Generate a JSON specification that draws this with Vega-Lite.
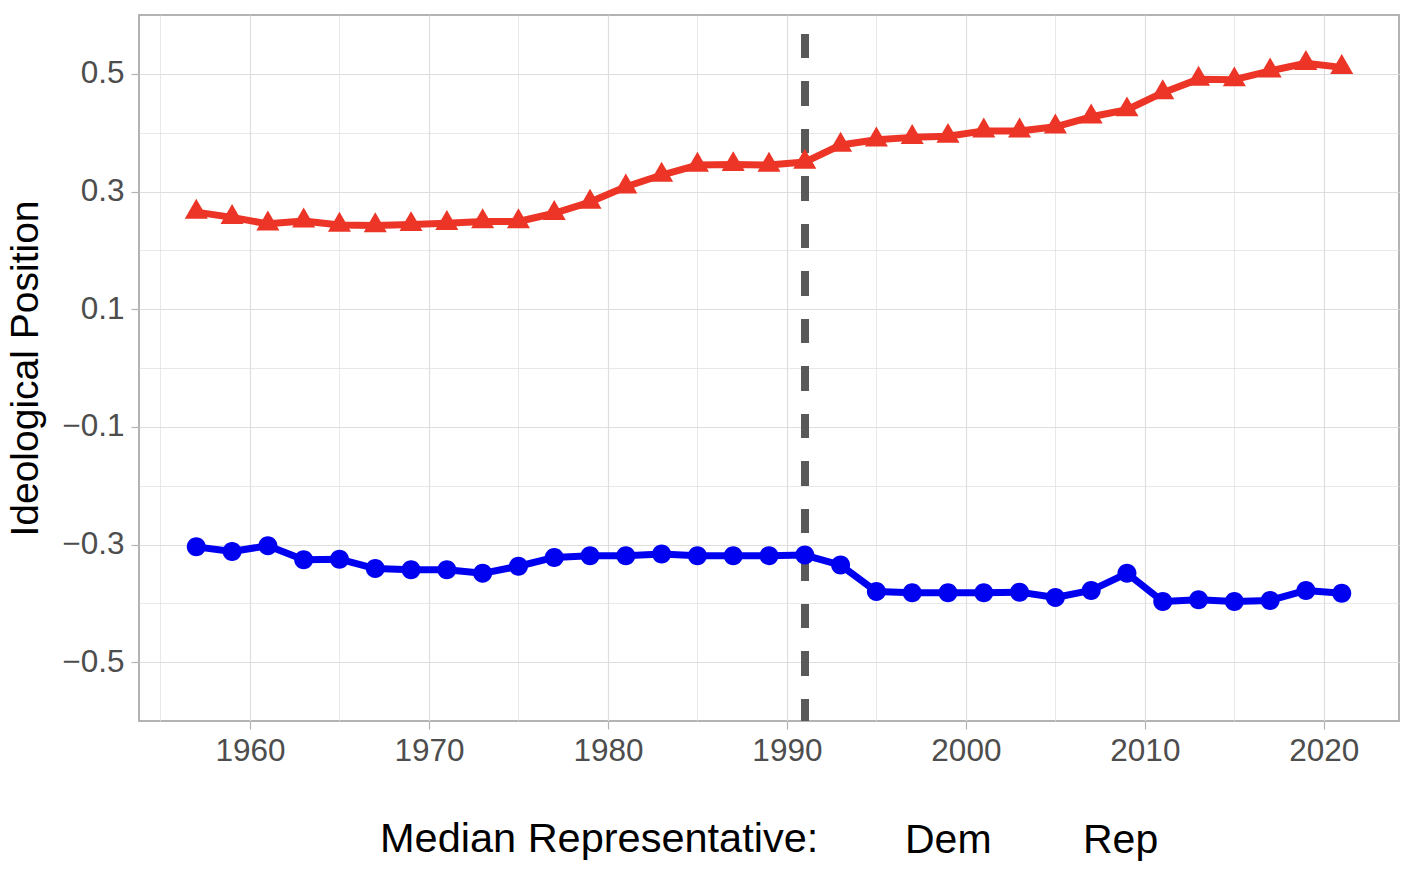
{
  "$schema": "https://vega.github.io/schema/vega-lite/v6.json",
  "autosize": {"type": "none"},
  "width": 1260,
  "height": 706,
  "padding": {"left": 139, "top": 15, "right": 15, "bottom": 171},
  "background": "white",
  "config": {
    "font": "Liberation Sans",
    "view": {"stroke": "#b3b3b3", "strokeWidth": 2}
  },
  "data": {
    "values": [
      {"year": 1957, "party": "Dem", "value": -0.304}, {"year": 1959, "party": "Dem", "value": -0.312},
      {"year": 1961, "party": "Dem", "value": -0.302}, {"year": 1963, "party": "Dem", "value": -0.326},
      {"year": 1965, "party": "Dem", "value": -0.325}, {"year": 1967, "party": "Dem", "value": -0.341},
      {"year": 1969, "party": "Dem", "value": -0.343}, {"year": 1971, "party": "Dem", "value": -0.343},
      {"year": 1973, "party": "Dem", "value": -0.349}, {"year": 1975, "party": "Dem", "value": -0.337},
      {"year": 1977, "party": "Dem", "value": -0.322}, {"year": 1979, "party": "Dem", "value": -0.319},
      {"year": 1981, "party": "Dem", "value": -0.319}, {"year": 1983, "party": "Dem", "value": -0.316},
      {"year": 1985, "party": "Dem", "value": -0.319}, {"year": 1987, "party": "Dem", "value": -0.319},
      {"year": 1989, "party": "Dem", "value": -0.319}, {"year": 1991, "party": "Dem", "value": -0.318},
      {"year": 1993, "party": "Dem", "value": -0.335}, {"year": 1995, "party": "Dem", "value": -0.380},
      {"year": 1997, "party": "Dem", "value": -0.382}, {"year": 1999, "party": "Dem", "value": -0.382},
      {"year": 2001, "party": "Dem", "value": -0.382}, {"year": 2003, "party": "Dem", "value": -0.381},
      {"year": 2005, "party": "Dem", "value": -0.390}, {"year": 2007, "party": "Dem", "value": -0.378},
      {"year": 2009, "party": "Dem", "value": -0.349}, {"year": 2011, "party": "Dem", "value": -0.397},
      {"year": 2013, "party": "Dem", "value": -0.394}, {"year": 2015, "party": "Dem", "value": -0.397},
      {"year": 2017, "party": "Dem", "value": -0.395}, {"year": 2019, "party": "Dem", "value": -0.378},
      {"year": 2021, "party": "Dem", "value": -0.383},
      {"year": 1957, "party": "Rep", "value": 0.265}, {"year": 1959, "party": "Rep", "value": 0.256},
      {"year": 1961, "party": "Rep", "value": 0.245}, {"year": 1963, "party": "Rep", "value": 0.250},
      {"year": 1965, "party": "Rep", "value": 0.243}, {"year": 1967, "party": "Rep", "value": 0.242},
      {"year": 1969, "party": "Rep", "value": 0.244}, {"year": 1971, "party": "Rep", "value": 0.246},
      {"year": 1973, "party": "Rep", "value": 0.249}, {"year": 1975, "party": "Rep", "value": 0.249},
      {"year": 1977, "party": "Rep", "value": 0.263}, {"year": 1979, "party": "Rep", "value": 0.282},
      {"year": 1981, "party": "Rep", "value": 0.308}, {"year": 1983, "party": "Rep", "value": 0.328},
      {"year": 1985, "party": "Rep", "value": 0.345}, {"year": 1987, "party": "Rep", "value": 0.346},
      {"year": 1989, "party": "Rep", "value": 0.345}, {"year": 1991, "party": "Rep", "value": 0.350},
      {"year": 1993, "party": "Rep", "value": 0.379}, {"year": 1995, "party": "Rep", "value": 0.388},
      {"year": 1997, "party": "Rep", "value": 0.392}, {"year": 1999, "party": "Rep", "value": 0.394},
      {"year": 2001, "party": "Rep", "value": 0.403}, {"year": 2003, "party": "Rep", "value": 0.403},
      {"year": 2005, "party": "Rep", "value": 0.410}, {"year": 2007, "party": "Rep", "value": 0.427},
      {"year": 2009, "party": "Rep", "value": 0.439}, {"year": 2011, "party": "Rep", "value": 0.468},
      {"year": 2013, "party": "Rep", "value": 0.491}, {"year": 2015, "party": "Rep", "value": 0.490},
      {"year": 2017, "party": "Rep", "value": 0.505}, {"year": 2019, "party": "Rep", "value": 0.518},
      {"year": 2021, "party": "Rep", "value": 0.511}
    ]
  },
  "encoding": {
    "x": {
      "field": "year", "type": "quantitative",
      "scale": {"domain": [1953.8, 2024.2], "nice": false, "zero": false},
      "axis": {
        "title": null,
        "format": "d",
        "values": [1955, 1960, 1965, 1970, 1975, 1980, 1985, 1990, 1995, 2000, 2005, 2010, 2015, 2020],
        "domain": false,
        "grid": true,
        "gridColor": "#dedede",
        "gridWidth": {"condition": {"test": "datum.value % 10 === 0", "value": 1.2}, "value": 0.7},
        "ticks": true,
        "tickColor": "#b3b3b3",
        "tickSize": 8,
        "tickWidth": 1.2,
        "tickOpacity": {"condition": {"test": "datum.value % 10 === 0", "value": 1}, "value": 0},
        "labelExpr": "datum.value % 10 === 0 ? datum.label : ''",
        "labelFontSize": 31.5,
        "labelColor": "#4d4d4d",
        "labelPadding": 6,
        "labelFlush": false,
        "labelOverlap": false
      }
    },
    "y": {
      "field": "value", "type": "quantitative",
      "scale": {"domain": [-0.6, 0.6], "nice": false, "zero": false},
      "axis": {
        "title": "Ideological Position",
        "titleFontSize": 39,
        "titleFontWeight": "normal",
        "titleColor": "black",
        "titlePadding": 16,
        "values": [-0.5, -0.4, -0.3, -0.2, -0.1, 0, 0.1, 0.2, 0.3, 0.4, 0.5],
        "domain": false,
        "grid": true,
        "gridColor": "#dedede",
        "gridWidth": {"condition": {"test": "abs(round(datum.value*10)) % 2 === 1", "value": 1.2}, "value": 0.7},
        "tickColor": "#b3b3b3",
        "tickSize": 8,
        "tickWidth": 1.2,
        "tickOpacity": {"condition": {"test": "abs(round(datum.value*10)) % 2 === 1", "value": 1}, "value": 0},
        "labelExpr": "abs(round(datum.value*10)) % 2 === 1 ? replace(format(datum.value, '.1f'), '-', '\u2212') : ''",
        "labelFontSize": 31.5,
        "labelColor": "#4d4d4d",
        "labelPadding": 7,
        "labelFlush": false,
        "labelOverlap": false
      }
    }
  },
  "layer": [
    {
      "mark": {"type": "rule", "color": "#595959", "strokeWidth": 7, "strokeDash": [24, 23.5], "strokeDashOffset": 28.5},
      "encoding": {
        "x": {"datum": 1991},
        "y": {"datum": 0.6},
        "y2": {"datum": -0.6}
      }
    },
    {
      "mark": {"type": "line", "strokeWidth": 7, "strokeJoin": "round", "strokeCap": "butt"},
      "encoding": {
        "color": {
          "field": "party", "type": "nominal",
          "scale": {"domain": ["Dem", "Rep"], "range": ["#0000f0", "#ec3526"]}
        }
      }
    },
    {
      "transform": [{"filter": "datum.party === 'Dem'"}],
      "mark": {"type": "point", "filled": true, "opacity": 1, "size": 708, "strokeWidth": 0, "color": "#0000f0",
               "shape": "M0.714,0A0.714,0.714,0,1,1,-0.714,0A0.714,0.714,0,1,1,0.714,0Z"}
    },
    {
      "transform": [{"filter": "datum.party === 'Rep'"}],
      "mark": {"type": "point", "filled": true, "opacity": 1, "size": 708, "strokeWidth": 0, "color": "#ec3526",
               "shape": "M0,-1L0.866,0.5L-0.866,0.5Z"}
    },
    {
      "mark": {"type": "point", "filled": true, "opacity": 0, "strokeWidth": 0},
      "encoding": {
        "shape": {
          "field": "party", "type": "nominal",
          "scale": {"domain": ["Dem", "Rep"], "range": [
            "M-1,-0.16H1V0.16H-1Z M0.45,0A0.45,0.45,0,1,1,-0.45,0A0.45,0.45,0,1,1,0.45,0Z",
            "M-1,-0.16H1V0.16H-1Z M0,-0.6L0.52,0.3L-0.52,0.3Z"
          ]},
          "legend": {"title": "Median Representative:"}
        },
        "color": {
          "field": "party", "type": "nominal",
          "scale": {"domain": ["Dem", "Rep"], "range": ["#0000f0", "#ec3526"]},
          "legend": {
            "title": "Median Representative:",
            "orient": "none",
            "legendX": 241,
            "legendY": 804,
            "direction": "horizontal",
            "titleOrient": "left",
            "titleFontSize": 41.5,
            "titleFontWeight": "normal",
            "titleColor": "black",
            "titleLimit": 900,
            "titlePadding": 22,
            "titleBaseline": "middle",
            "labelFontSize": 41,
            "labelColor": "black",
            "labelLimit": 300,
            "symbolSize": 1936,
            "symbolStrokeWidth": 0,
            "symbolOpacity": 1,
            "labelOffset": 20,
            "columnPadding": 27,
            "padding": 0
          }
        }
      }
    }
  ]
}
